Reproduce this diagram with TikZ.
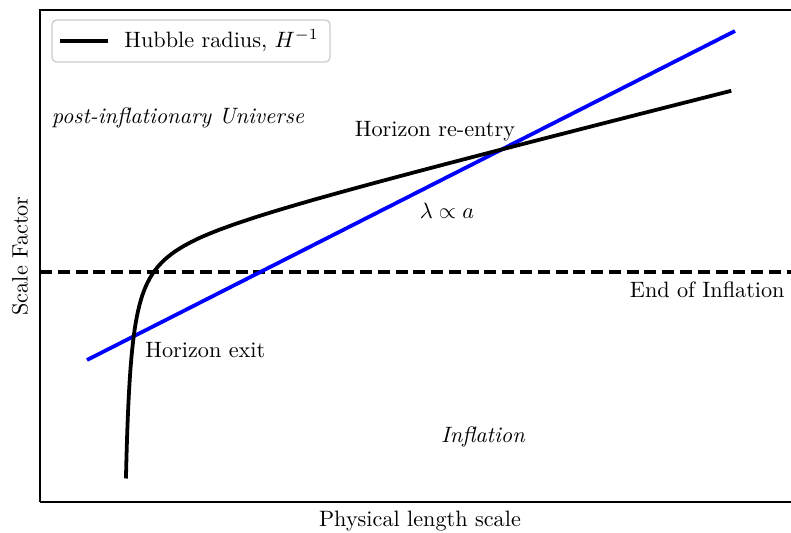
\documentclass[tikz,border=0pt]{standalone}
\usepackage{amsmath}
\usepackage{amssymb}
\begin{document}
\begin{tikzpicture}[x=0.45pt,y=-0.45pt,
  hubble/.style={black,line width=1.7pt},
  mode/.style={blue,line width=1.7pt},
  lbl/.style={inner sep=0pt}]
  \useasboundingbox (0,0) rectangle (791,533);
  \clip (0,0) rectangle (791,533);
  \draw[line width=0.8pt] (40,502) -- (40,10) -- (800,10) (40,502) -- (800,502);
  \draw[black,line width=1.7pt,dash pattern=on 5.4pt off 2.6pt] (40,272) -- (791,272);
  \draw[mode] (87,360) -- (735,31);
  \draw[hubble] plot[domain=1.696:6.416,samples=200,smooth]
  ({120.5+exp(\x)},{271.5-0.25*(120.5+exp(\x))+1300*exp(-\x)});
  \node[draw=black!20,line width=0.6pt,rounded corners=2pt,fill=white,
    minimum width=278*0.45pt,minimum height=42*0.45pt] (legend) at (191,41) {};
  \draw[hubble] (60,41) -- (108,41);
  \node[lbl,anchor=west] (legendtext) at (124,41) {Hubble radius, $H^{-1}$};
  \node[lbl] (post) at (178,118) {\itshape post-inflationary Universe};
  \node[lbl] (reentry) at (435,131) {Horizon re-entry};
  \node[lbl] (lambda) at (447,211) {$\lambda\propto a$};
  \node[lbl,anchor=east] (endinf) at (785,290) {End of Inflation};
  \node[lbl,anchor=west] (exit) at (145,350) {Horizon exit};
  \node[lbl] (inflation) at (483,437) {\itshape Inflation};
  \node[lbl,rotate=90] (ylabel) at (20,256) {Scale Factor};
  \node[lbl] (xlabel) at (420,521) {Physical length scale};
\end{tikzpicture}
\end{document}
